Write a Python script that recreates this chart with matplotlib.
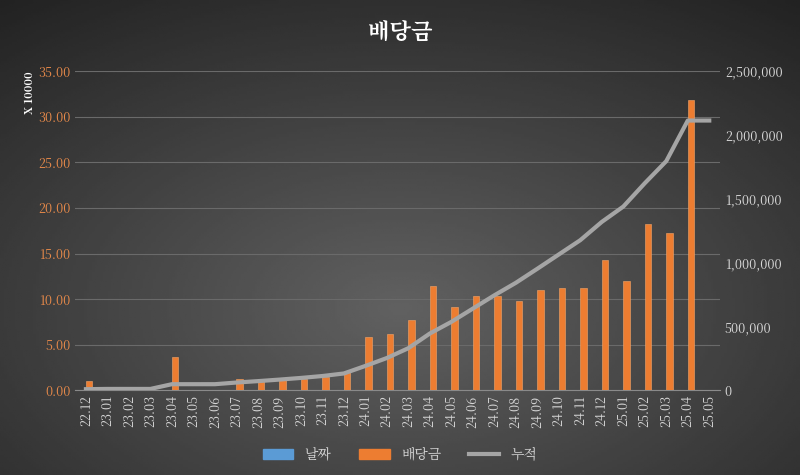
import numpy as np
import matplotlib.pyplot as plt
from matplotlib import font_manager
from matplotlib.patches import Patch
from matplotlib.lines import Line2D
from matplotlib.ticker import FuncFormatter

# pick whichever CJK font is actually registered
cjk = [f.name for f in font_manager.fontManager.ttflist if "CJK" in f.name]
kr = [n for n in cjk if n.endswith("KR")]
plt.rcParams["font.family"] = (kr or cjk or ["DejaVu Sans"])[:1] + ["DejaVu Sans"]

months = ["22.12", "23.01", "23.02", "23.03", "23.04", "23.05", "23.06", "23.07", "23.08", "23.09",
          "23.10", "23.11", "23.12", "24.01", "24.02", "24.03", "24.04", "24.05", "24.06", "24.07",
          "24.08", "24.09", "24.10", "24.11", "24.12", "25.01", "25.02", "25.03", "25.04", "25.05"]
# dividends, unit: 10,000 won
dividend = [1.0, 0.2, 0.0, 0.0, 3.7, 0.0, 0.0, 1.3, 1.1, 1.2,
            1.3, 1.5, 2.0, 5.9, 6.2, 7.7, 11.5, 9.1, 10.4, 10.4,
            9.8, 11.0, 11.2, 11.2, 14.3, 12.0, 18.3, 17.3, 31.8, 0.0]
# cumulative, won
cumulative = [10000, 12000, 12000, 12000, 49000, 49000, 49000, 62000, 73000, 85000,
              98000, 113000, 133000, 192000, 254000, 331000, 446000, 537000, 641000, 745000,
              843000, 953000, 1065000, 1177000, 1320000, 1440000, 1623000, 1796000, 2114000, 2114000]

fig = plt.figure(figsize=(8, 4.75), dpi=100)
# dark radial background, lighter toward upper centre
bg = fig.add_axes([0, 0, 1, 1], zorder=-10)
yy, xx = np.mgrid[-1:1:200j, -1:1:300j]
r = np.sqrt(xx**2 + (yy - 0.3)**2)
bg.imshow(0.38 - 0.15 * r, cmap="gray", vmin=0, vmax=1, aspect="auto", extent=[0, 1, 0, 1])
bg.axis("off")

ax = fig.add_axes([0.094, 0.178, 0.806, 0.672])
ax.set_facecolor("none")
x = np.arange(len(months))
ax.bar(x + 0.15, dividend, width=0.3, color="#ed7d31", edgecolor="#f4a66a", linewidth=0.4, zorder=3)
ax.set_ylim(0, 35)
ax.set_yticks(np.arange(0, 35.1, 5))
ax.yaxis.set_major_formatter(FuncFormatter(lambda v, p: f"{v:.2f}"))
ax.tick_params(axis="y", colors="#e88a4a", labelsize=9, length=0)
ax.set_xlim(-0.5, len(months) - 0.5)
ax.set_xticks(x)
ax.set_xticklabels(months, rotation=90, color="#d9d9d9", fontsize=9)
ax.tick_params(axis="x", length=0)
ax.grid(axis="y", color="#6a6a6a", linewidth=0.8, zorder=0)
for s in ax.spines.values():
    s.set_visible(False)
ax.spines["bottom"].set_visible(True)
ax.spines["bottom"].set_color("#8a8a8a")
ax.text(-0.07, 1.0, "X 10000", transform=ax.transAxes, rotation=90, color="white",
        fontsize=8, fontweight="bold", ha="center", va="top")

ax2 = ax.twinx()
ax2.plot(x, cumulative, color="#a5a5a5", linewidth=3, zorder=4)
ax2.set_ylim(0, 2500000)
ax2.set_yticks(np.arange(0, 2500001, 500000))
ax2.yaxis.set_major_formatter(FuncFormatter(lambda v, p: f"{int(v):,}"))
ax2.tick_params(axis="y", colors="#d9d9d9", labelsize=9, length=0)
for s in ax2.spines.values():
    s.set_visible(False)

fig.text(0.5, 0.93, "배당금", color="white", fontsize=16, fontweight="bold", ha="center", va="center")
handles = [Patch(color="#5b9bd5"), Patch(color="#ed7d31"), Line2D([], [], color="#a5a5a5", lw=3)]
fig.legend(handles, ["날짜", "배당금", "누적"], loc="lower center", ncol=3, frameon=False,
           bbox_to_anchor=(0.5, 0.0), labelcolor="#d9d9d9", fontsize=10, handlelength=2.2)
fig.savefig("out.png", dpi=100)
